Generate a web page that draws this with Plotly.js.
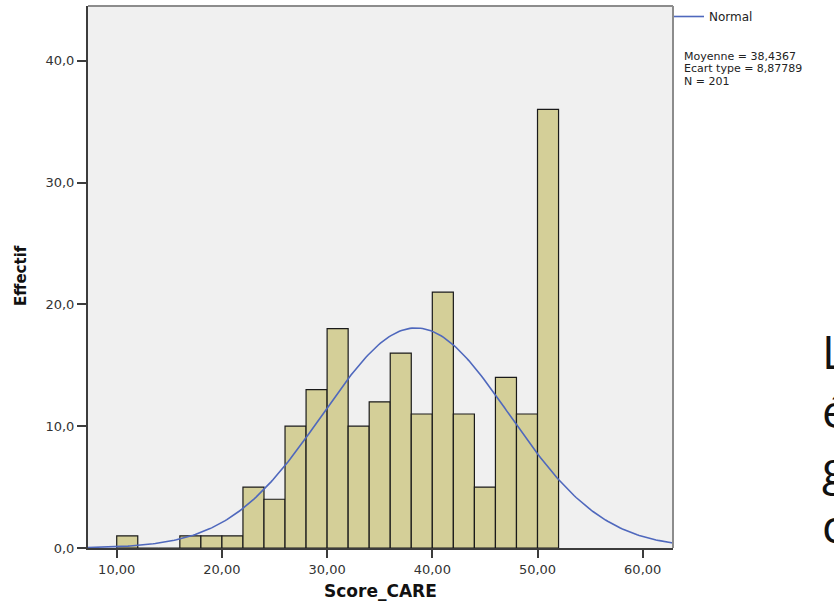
<!DOCTYPE html>
<html>
<head>
<meta charset="utf-8">
<script src="https://cdn.plot.ly/plotly-3.0.1.min.js"></script>
<style>
  html, body { margin: 0; padding: 0; background: #ffffff; }
  #chart { width: 834px; height: 606px; }
</style>
</head>
<body>
<div id="chart"></div>
<script>
// ---- data ----
const binStarts = [10, 12, 14, 16, 18, 20, 22, 24, 26, 28, 30, 32, 34, 36, 38, 40, 42, 44, 46, 48, 50];
const counts    = [ 1,  0,  0,  1,  1,  1,  5,  4, 10, 13, 18, 10, 12, 16, 11, 21, 11,  5, 14, 11, 36];
const binWidth = 2;

const normalMean = 38.4367;
const normalSd = 8.87789;
const normalN = 201;

const xTickVals = [10, 20, 30, 40, 50, 60];
const xTickText = ["10,00", "20,00", "30,00", "40,00", "50,00", "60,00"];
const yTickVals = [0, 10, 20, 30, 40];
const yTickText = ["0,0", "10,0", "20,0", "30,0", "40,0"];

const statsLines = ["Moyenne = 38,4367", "Ecart type = 8,87789", "N = 201"];
const sideLetters = ["L", "é", "g", "c"];

// ---- derived ----
const xRange = [7.27, 62.88];
const binCenters = binStarts.map(s => s + binWidth / 2);

const curveX = [];
const curveY = [];
const peak = normalN * binWidth / (normalSd * Math.sqrt(2 * Math.PI));
for (let x = xRange[0]; x <= xRange[1] + 1e-9; x += 0.2) {
  const z = (x - normalMean) / normalSd;
  curveX.push(x);
  curveY.push(peak * Math.exp(-0.5 * z * z));
}

const bars = {
  type: 'bar',
  x: binCenters,
  y: counts,
  width: binWidth,
  marker: { color: '#d4cf98', line: { color: '#1a1a1a', width: 1.2 } },
  showlegend: false,
  hoverinfo: 'x+y'
};

const curve = {
  type: 'scatter',
  mode: 'lines',
  x: curveX,
  y: curveY,
  name: 'Normal',
  line: { color: '#4f68bd', width: 1.6 },
  showlegend: true
};

const plotW = 834 - 88 - 161;
function px2paperX(px) { return (px - 88) / plotW; }
const plotH = 606 - 6 - 58;
function px2paperY(py) { return (606 - 58 - py) / plotH; }

const annotations = [];
const statsY = [57, 69, 81];
statsLines.forEach((t, i) => {
  annotations.push({
    xref: 'paper', yref: 'paper', x: px2paperX(683), y: px2paperY(statsY[i]),
    xanchor: 'left', yanchor: 'middle', showarrow: false, text: t,
    font: { family: 'DejaVu Sans', size: 11, color: '#222222' }, borderpad: 0
  });
});
const letterY = [351, 410, 467, 525];
sideLetters.forEach((t, i) => {
  annotations.push({
    xref: 'paper', yref: 'paper', x: px2paperX(821), y: px2paperY(letterY[i]),
    xanchor: 'left', yanchor: 'middle', showarrow: false, text: t,
    font: { family: 'Open Sans', size: 46, color: '#111111' }, borderpad: 0
  });
});
// axis titles
annotations.push({
  xref: 'paper', yref: 'paper', x: 0.5, y: px2paperY(591),
  xanchor: 'center', yanchor: 'middle', showarrow: false, text: '<b>Score_CARE</b>',
  font: { family: 'DejaVu Sans', size: 17, color: '#111111' }
});
annotations.push({
  xref: 'paper', yref: 'paper', x: px2paperX(21), y: px2paperY(276),
  xanchor: 'center', yanchor: 'middle', showarrow: false, text: '<b>Effectif</b>',
  textangle: -90,
  font: { family: 'DejaVu Sans', size: 15, color: '#111111' }
});

const layout = {
  width: 834, height: 606,
  margin: { l: 88, r: 161, t: 6, b: 58, autoexpand: false },
  paper_bgcolor: '#ffffff',
  plot_bgcolor: '#f0f0f0',
  bargap: 0,
  font: { family: 'DejaVu Sans', size: 13, color: '#333333' },
  xaxis: {
    range: xRange, tickvals: xTickVals, ticktext: xTickText,
    showgrid: false, zeroline: false,
    showline: true, linecolor: '#3c3c3c', linewidth: 2,
    ticks: 'outside', ticklen: 8, tickwidth: 2, tickcolor: '#3c3c3c',
    tickfont: { family: 'DejaVu Sans', size: 13, color: '#333333' },
    fixedrange: true
  },
  yaxis: {
    range: [0, 44.49], tickvals: yTickVals, ticktext: yTickText,
    showgrid: false, zeroline: false,
    showline: true, linecolor: '#3c3c3c', linewidth: 2,
    ticks: 'outside', ticklen: 9, tickwidth: 2, tickcolor: '#3c3c3c',
    tickfont: { family: 'DejaVu Sans', size: 13, color: '#333333' },
    fixedrange: true
  },
  shapes: [
    { type: 'line', xref: 'paper', yref: 'paper', x0: 0, x1: 1, y0: 1, y1: 1,
      line: { color: '#8c8c8c', width: 2 } },
    { type: 'line', xref: 'paper', yref: 'paper', x0: 1, x1: 1, y0: 0, y1: 1,
      line: { color: '#8c8c8c', width: 2 } }
  ],
  legend: {
    x: px2paperX(669), y: 1 + 4 / plotH, xanchor: 'left', yanchor: 'top',
    bgcolor: 'rgba(0,0,0,0)', borderwidth: 0,
    font: { family: 'DejaVu Sans', size: 12, color: '#222222' },
    itemwidth: 30, tracegroupgap: 0
  },
  annotations: annotations
};

Plotly.newPlot('chart', [bars, curve], layout, { displayModeBar: false, staticPlot: true });
</script>
</body>
</html>
